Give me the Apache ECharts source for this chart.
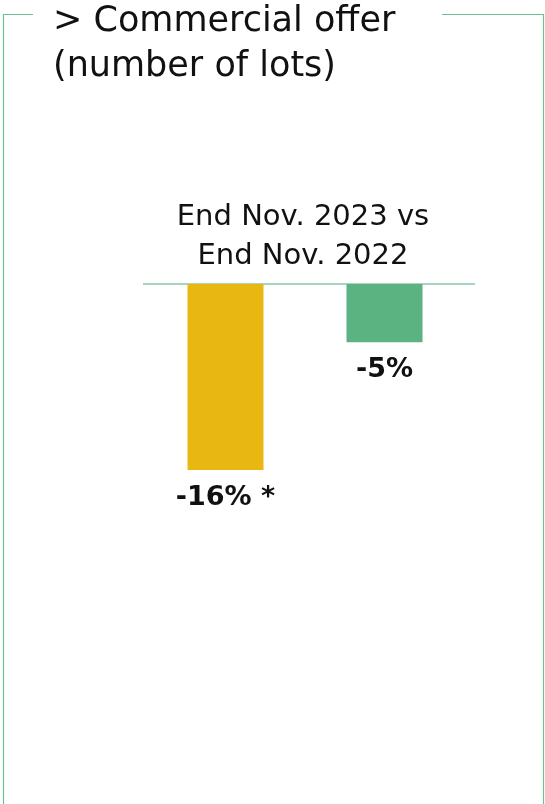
<!DOCTYPE html>
<html><head><meta charset="utf-8">
<script src="https://cdn.jsdelivr.net/npm/echarts@6/dist/echarts.min.js"></script>
<style>html,body{margin:0;padding:0;background:#fff}#c{width:545px;height:804px}</style>
</head><body><div id="c"></div>
<script>
const categories = ['Commercial offer A', 'Commercial offer B'];
const values = [-16, -5];
const labels = ['-16% *', '-5%'];
const colors = ['#E8B711', '#5BB381'];
const titleText = '> Commercial offer\n(number of lots)';
const subtitleText = 'End Nov. 2023 vs\nEnd Nov. 2022';

const chart = echarts.init(document.getElementById('c'));
const frameColor = '#6EC095';
chart.setOption({
  animation: false,
  backgroundColor: '#fff',
  title: [{
    text: titleText, left: 48, top: -6,
    textStyle: {fontFamily: 'DejaVu Sans', fontWeight: 'normal', fontSize: 35, lineHeight: 45, color: '#111'}
  }, {
    text: subtitleText, left: 298, top: 193, textAlign: 'center',
    textStyle: {fontFamily: 'DejaVu Sans', fontWeight: 'normal', fontSize: 29, lineHeight: 39, color: '#111'}
  }],
  graphic: [
    {type: 'polyline', shape: {points: [[33, 14.5], [3.5, 14.5], [3.5, 804]]}, style: {stroke: frameColor, lineWidth: 1.2, fill: null}},
    {type: 'polyline', shape: {points: [[442, 14.5], [543.5, 14.5], [543.5, 804]]}, style: {stroke: frameColor, lineWidth: 1.2, fill: null}},
    {type: 'line', shape: {x1: 143, y1: 284, x2: 475, y2: 284}, style: {stroke: '#A6D7BE', lineWidth: 2}}
  ],
  grid: {left: 146, width: 318, top: 284, height: 465},
  xAxis: {type: 'category', data: categories, position: 'top',
    axisLine: {show: false}, axisTick: {show: false}, axisLabel: {show: false}},
  yAxis: {type: 'value', min: -40, max: 0, show: false, splitLine: {show: false}},
  series: [{
    type: 'bar', barWidth: 76,
    data: values.map((v, i) => ({value: v, itemStyle: {color: colors[i]}, label: {formatter: labels[i]}})),
    label: {show: true, position: 'bottom', distance: 14,
      fontFamily: 'DejaVu Sans', fontWeight: 'bold', fontSize: 27, color: '#111'}
  }]
});
</script></body></html>
